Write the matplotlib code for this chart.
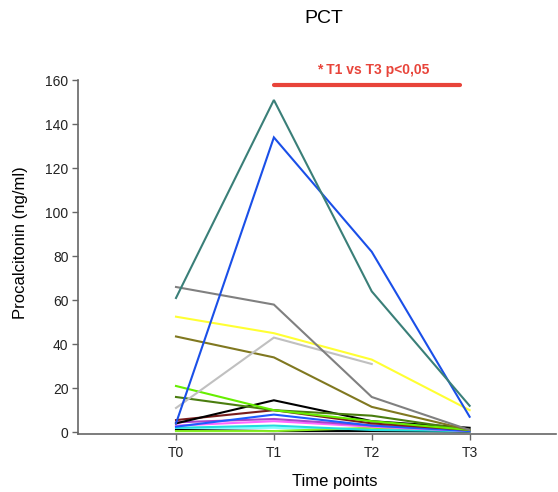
import matplotlib
matplotlib.use("Agg")
import matplotlib.pyplot as plt
import numpy as np

plt.rcParams["font.family"] = ["Liberation Sans", "DejaVu Sans"]

time_labels = ["T0", "T1", "T2", "T3"]

series_teal = [61, 151, 64, 12]
series_blue_big = [4, 134, 82, 7]
series_gray = [66, 58, 16, 1]
series_yellow = [52.5, 45, 33, 10]
series_lightgray = [11, 43, 31, None]
series_olive = [43.5, 34, 11.5, 1]
series_lime = [21, 10, 5, 1]
series_darkgreen = [16, 10, 7.5, 1]
series_black = [4, 14.5, 5, 2]
series_maroon = [5.5, 10, 4, 1]
series_blue = [2.5, 8, 3, 0.5]
series_violet = [4.5, 6, 3, 1]
series_pink = [3, 5, 2.5, 0.5]
series_cyan = [2, 3, 1, 0.5]
series_lightcyan = [1.5, 2, 0.5, 0.3]
series_black2 = [1, 0.5, 0.5, 0.3]
series_lime2 = [0.5, 0.5, 2, 0.5]

series = [
    (series_lightcyan, "#7fffff"),
    (series_black2, "#000000"),
    (series_lime2, "#88ee22"),
    (series_cyan, "#22dddd"),
    (series_pink, "#ff66ff"),
    (series_violet, "#aa44cc"),
    (series_blue, "#1f5bff"),
    (series_maroon, "#7a1c1c"),
    (series_black, "#000000"),
    (series_darkgreen, "#4a7d0f"),
    (series_lime, "#66ee00"),
    (series_olive, "#807820"),
    (series_lightgray, "#c0c0c0"),
    (series_yellow, "#ffff33"),
    (series_gray, "#808080"),
    (series_blue_big, "#1a4fe8"),
    (series_teal, "#3a7f78"),
]

fig = plt.figure(figsize=(5.58, 4.92), dpi=100)
ax = fig.add_axes([0.14, 0.118, 0.856, 0.719])

x = np.arange(len(time_labels))
for vals, color in series:
    xs = [xi for xi, v in zip(x, vals) if v is not None]
    ys = [v for v in vals if v is not None]
    ax.plot(xs, ys, color=color, lw=1.5, solid_joinstyle="miter")

ax.set_xlim(-1, 3.88)
ax.set_ylim(-0.8, 160)
ax.set_xticks(x)
ax.set_xticklabels(time_labels)
ax.set_yticks(np.arange(0, 161, 20))
for s in ["top", "right"]:
    ax.spines[s].set_visible(False)
for s in ["left", "bottom"]:
    ax.spines[s].set_color("#666666")
    ax.spines[s].set_linewidth(1.2)
ax.tick_params(colors="#666666", labelcolor="#222222", labelsize=10, length=4, width=1.0, pad=3)
ax.tick_params(axis="x", pad=5)

ax.set_xlabel("Time points", fontsize=12)
ax.xaxis.set_label_coords(0.538, -0.113)
ax.set_ylabel("Procalcitonin (ng/ml)", fontsize=12)
ax.yaxis.set_label_coords(-0.104, 0.54)
fig.text(0.58, 0.962, "PCT", ha="center", va="center", fontsize=14)

ax.plot([1, 2.9], [157.7, 157.7], color="#e8443a", lw=3, solid_capstyle="round", clip_on=False)
ax.text(2.01, 164.5, "* T1 vs T3 p<0,05", color="#e8443a", fontsize=10, fontweight="bold",
        ha="center", va="center", clip_on=False)

fig.savefig("out.png", dpi=100)
